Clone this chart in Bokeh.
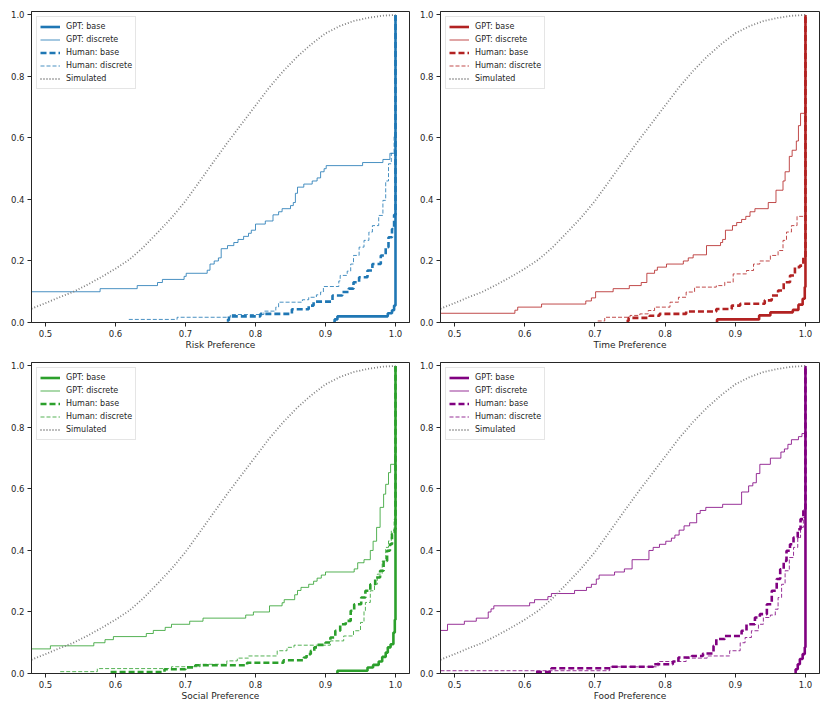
from bokeh.plotting import figure
from bokeh.layouts import column, row
from bokeh.models import Range1d, FixedTicker, PrintfTickFormatter
from bokeh.embed import file_html
from bokeh.resources import INLINE

# ---------------- data (x, y) step points ----------------
simulated = [(0.48, 0.045), (0.50, 0.063), (0.52, 0.082), (0.54, 0.100), (0.56, 0.123),
             (0.58, 0.148), (0.60, 0.175), (0.62, 0.205), (0.64, 0.245), (0.66, 0.292),
             (0.68, 0.340), (0.70, 0.395), (0.72, 0.458), (0.74, 0.522), (0.76, 0.585),
             (0.78, 0.645), (0.80, 0.705), (0.82, 0.765), (0.84, 0.818), (0.86, 0.865),
             (0.88, 0.905), (0.90, 0.940), (0.92, 0.963), (0.94, 0.980), (0.96, 0.990),
             (0.98, 0.997), (1.00, 1.000)]

risk_gpt_base = [(0.911, 0.0), (0.913, 0.01), (0.917, 0.02), (0.989, 0.03), (0.995, 0.04),
                 (0.998, 0.055), (1.0, 1.0)]
risk_gpt_discrete = [(0.48, 0.10), (0.578, 0.11), (0.631, 0.12), (0.660, 0.13), (0.667, 0.14),
                     (0.698, 0.15), (0.701, 0.16), (0.731, 0.17), (0.735, 0.19), (0.741, 0.20),
                     (0.747, 0.21), (0.751, 0.24), (0.760, 0.25), (0.769, 0.26), (0.775, 0.27),
                     (0.783, 0.28), (0.790, 0.29), (0.794, 0.30), (0.800, 0.32), (0.814, 0.33),
                     (0.825, 0.35), (0.833, 0.36), (0.838, 0.37), (0.850, 0.38), (0.854, 0.39),
                     (0.857, 0.42), (0.860, 0.44), (0.869, 0.45), (0.881, 0.46), (0.888, 0.47),
                     (0.893, 0.49), (0.898, 0.50), (0.901, 0.51), (0.953, 0.52), (0.982, 0.53),
                     (0.992, 0.55), (0.999, 0.56), (1.0, 1.0)]
risk_human_base = [(0.759, 0.007), (0.762, 0.02), (0.807, 0.028), (0.852, 0.043), (0.876, 0.055),
                   (0.883, 0.068), (0.910, 0.088), (0.924, 0.099), (0.933, 0.11), (0.940, 0.131),
                   (0.948, 0.147), (0.960, 0.169), (0.967, 0.19), (0.979, 0.218), (0.986, 0.245),
                   (0.990, 0.277), (0.995, 0.304), (0.998, 0.35), (1.0, 1.0)]
risk_human_discrete = [(0.619, 0.01), (0.688, 0.017), (0.764, 0.026), (0.812, 0.037), (0.829, 0.05),
                       (0.833, 0.066), (0.867, 0.074), (0.876, 0.082), (0.887, 0.09), (0.893, 0.099),
                       (0.897, 0.117), (0.919, 0.135), (0.921, 0.153), (0.931, 0.167), (0.936, 0.19),
                       (0.940, 0.218), (0.948, 0.245), (0.955, 0.267), (0.962, 0.294), (0.967, 0.315),
                       (0.976, 0.348), (0.982, 0.397), (0.986, 0.46), (0.990, 0.516), (0.994, 0.55),
                       (0.998, 0.61), (1.0, 1.0)]

time_gpt_base = [(0.873, 0.0), (0.874, 0.01), (0.934, 0.023), (0.950, 0.033), (0.982, 0.041),
                 (0.990, 0.058), (0.996, 0.077), (0.999, 0.115), (1.0, 1.0)]
time_gpt_discrete = [(0.48, 0.03), (0.586, 0.04), (0.590, 0.05), (0.624, 0.06), (0.687, 0.07),
                     (0.695, 0.08), (0.701, 0.10), (0.726, 0.11), (0.749, 0.12), (0.766, 0.13),
                     (0.774, 0.16), (0.785, 0.17), (0.789, 0.18), (0.802, 0.19), (0.826, 0.20),
                     (0.833, 0.21), (0.840, 0.22), (0.859, 0.25), (0.879, 0.26), (0.882, 0.27),
                     (0.886, 0.30), (0.896, 0.315), (0.902, 0.325), (0.909, 0.335), (0.915, 0.345),
                     (0.921, 0.36), (0.928, 0.37), (0.947, 0.39), (0.958, 0.43), (0.968, 0.46),
                     (0.971, 0.49), (0.977, 0.54), (0.981, 0.56), (0.987, 0.59), (0.990, 0.64),
                     (0.993, 0.68), (0.999, 0.69), (1.0, 1.0)]
time_human_base = [(0.745, 0.005), (0.748, 0.015), (0.778, 0.022), (0.792, 0.028), (0.830, 0.036),
                   (0.873, 0.044), (0.895, 0.055), (0.907, 0.061), (0.942, 0.072), (0.952, 0.088),
                   (0.961, 0.104), (0.969, 0.131), (0.978, 0.153), (0.985, 0.18), (0.992, 0.185),
                   (0.997, 0.212), (1.0, 1.0)]
time_human_discrete = [(0.704, 0.005), (0.714, 0.017), (0.750, 0.023), (0.764, 0.028), (0.776, 0.039),
                       (0.785, 0.05), (0.807, 0.066), (0.819, 0.082), (0.830, 0.099), (0.842, 0.115),
                       (0.873, 0.12), (0.885, 0.131), (0.897, 0.158), (0.916, 0.169), (0.926, 0.19),
                       (0.935, 0.20), (0.950, 0.218), (0.961, 0.234), (0.968, 0.267), (0.973, 0.294),
                       (0.980, 0.315), (0.988, 0.345), (1.0, 1.0)]

social_gpt_base = [(0.916, 0.0), (0.917, 0.009), (0.960, 0.0195), (0.968, 0.028), (0.976, 0.039),
                   (0.981, 0.054), (0.986, 0.068), (0.989, 0.085), (0.993, 0.095), (0.997, 0.133),
                   (0.999, 0.175), (1.0, 1.0)]
social_gpt_discrete = [(0.48, 0.08), (0.507, 0.09), (0.569, 0.10), (0.585, 0.11), (0.597, 0.12),
                       (0.644, 0.13), (0.654, 0.14), (0.671, 0.15), (0.680, 0.16), (0.706, 0.17),
                       (0.725, 0.18), (0.786, 0.19), (0.797, 0.20), (0.820, 0.22), (0.838, 0.23),
                       (0.841, 0.24), (0.856, 0.256), (0.860, 0.27), (0.865, 0.28), (0.876, 0.29),
                       (0.883, 0.30), (0.888, 0.31), (0.894, 0.32), (0.900, 0.33), (0.941, 0.34),
                       (0.946, 0.36), (0.955, 0.37), (0.964, 0.40), (0.968, 0.43), (0.973, 0.475),
                       (0.978, 0.54), (0.983, 0.583), (0.986, 0.615), (0.990, 0.653), (0.993, 0.68),
                       (0.999, 0.713), (1.0, 1.0)]
social_human_base = [(0.593, 0.005), (0.670, 0.014), (0.700, 0.02), (0.714, 0.027), (0.788, 0.035),
                     (0.840, 0.043), (0.869, 0.052), (0.873, 0.063), (0.879, 0.074), (0.884, 0.085),
                     (0.888, 0.093), (0.900, 0.101), (0.907, 0.117), (0.914, 0.139), (0.921, 0.16),
                     (0.929, 0.171), (0.936, 0.204), (0.941, 0.225), (0.951, 0.247), (0.957, 0.269),
                     (0.964, 0.29), (0.971, 0.312), (0.978, 0.334), (0.983, 0.366), (0.988, 0.399),
                     (0.992, 0.42), (0.995, 0.453), (0.999, 0.469), (1.0, 1.0)]
social_human_discrete = [(0.521, 0.006), (0.574, 0.016), (0.680, 0.022), (0.721, 0.03), (0.759, 0.041),
                         (0.774, 0.05), (0.790, 0.057), (0.831, 0.074), (0.845, 0.085), (0.855, 0.092),
                         (0.907, 0.106), (0.926, 0.122), (0.940, 0.139), (0.950, 0.166), (0.955, 0.204),
                         (0.957, 0.231), (0.964, 0.269), (0.970, 0.29), (0.974, 0.323), (0.981, 0.366),
                         (0.986, 0.41), (0.990, 0.431), (0.994, 0.464), (0.998, 0.502), (1.0, 1.0)]

food_gpt_base = [(0.985, 0.0), (0.986, 0.014), (0.989, 0.03), (0.992, 0.047), (0.996, 0.063),
                 (0.999, 0.085), (1.0, 1.0)]
food_gpt_discrete = [(0.48, 0.14), (0.490, 0.16), (0.514, 0.17), (0.531, 0.18), (0.548, 0.20),
                     (0.552, 0.21), (0.556, 0.22), (0.607, 0.23), (0.614, 0.24), (0.633, 0.25),
                     (0.638, 0.26), (0.671, 0.27), (0.688, 0.28), (0.695, 0.29), (0.702, 0.307),
                     (0.706, 0.32), (0.728, 0.33), (0.742, 0.34), (0.753, 0.37), (0.777, 0.40),
                     (0.783, 0.41), (0.792, 0.42), (0.801, 0.43), (0.809, 0.44), (0.814, 0.45),
                     (0.820, 0.466), (0.827, 0.48), (0.835, 0.49), (0.845, 0.52), (0.850, 0.53),
                     (0.858, 0.54), (0.882, 0.55), (0.909, 0.59), (0.919, 0.61), (0.925, 0.62),
                     (0.930, 0.65), (0.935, 0.68), (0.950, 0.70), (0.965, 0.72), (0.970, 0.73),
                     (0.975, 0.745), (0.980, 0.76), (0.990, 0.77), (0.995, 0.78), (1.0, 1.0)]
food_human_base = [(0.616, 0.005), (0.638, 0.017), (0.723, 0.022), (0.783, 0.03), (0.811, 0.039),
                   (0.819, 0.052), (0.838, 0.057), (0.854, 0.065), (0.869, 0.09), (0.873, 0.112),
                   (0.885, 0.122), (0.909, 0.139), (0.916, 0.16), (0.928, 0.182), (0.935, 0.193),
                   (0.945, 0.225), (0.952, 0.269), (0.959, 0.307), (0.964, 0.339), (0.969, 0.366),
                   (0.973, 0.399), (0.978, 0.42), (0.983, 0.442), (0.989, 0.469), (0.993, 0.502),
                   (0.997, 0.529), (1.0, 1.0)]
food_human_discrete = [(0.48, 0.009), (0.721, 0.0217), (0.790, 0.039), (0.830, 0.05), (0.860, 0.057),
                       (0.892, 0.074), (0.907, 0.10), (0.914, 0.117), (0.923, 0.139), (0.933, 0.16),
                       (0.940, 0.182), (0.950, 0.19), (0.957, 0.209), (0.961, 0.247), (0.966, 0.29),
                       (0.971, 0.334), (0.977, 0.377), (0.983, 0.41), (0.989, 0.442), (0.993, 0.475),
                       (0.997, 0.507), (1.0, 1.0)]

x_ticks = [0.5, 0.6, 0.7, 0.8, 0.9, 1.0]
y_ticks = [0.0, 0.2, 0.4, 0.6, 0.8, 1.0]

panels = [
    ("Risk Preference", "#1f77b4", risk_gpt_base, risk_gpt_discrete, risk_human_base, risk_human_discrete),
    ("Time Preference", "#b22222", time_gpt_base, time_gpt_discrete, time_human_base, time_human_discrete),
    ("Social Preference", "#2ca02c", social_gpt_base, social_gpt_discrete, social_human_base, social_human_discrete),
    ("Food Preference", "#800080", food_gpt_base, food_gpt_discrete, food_human_base, food_human_discrete),
]

FONT = "DejaVu Sans"
DARK = "#262626"


def xs(pts):
    return [p[0] for p in pts]


def ys(pts):
    return [p[1] for p in pts]


def make_panel(i, label, color, gb, gd, hb, hd):
    left_col = (i % 2 == 0)
    top_row = (i < 2)
    p = figure(
        frame_width=378 if left_col else 379,
        frame_height=311,
        x_range=Range1d(0.48, 1.02),
        y_range=Range1d(0.0, 1.011),
        output_backend="svg",
        toolbar_location=None,
        min_border_left=31 if left_col else 25,
        min_border_right=6 if left_col else 3,
        min_border_top=11 if top_row else 7,
        min_border_bottom=33 if top_row else 31,
    )
    p.background_fill_color = "white"
    p.border_fill_color = "white"
    p.outline_line_color = DARK
    p.outline_line_width = 1
    p.xgrid.visible = False
    p.ygrid.visible = False

    p.step(xs(gb), ys(gb), mode="after", line_color=color, line_width=2.6,
           legend_label="GPT: base")
    p.step(xs(gd), ys(gd), mode="after", line_color=color, line_width=0.9, line_alpha=0.9,
           legend_label="GPT: discrete")
    p.step(xs(hb), ys(hb), mode="after", line_color=color, line_width=2.6, line_dash="6 3",
           legend_label="Human: base")
    p.step(xs(hd), ys(hd), mode="after", line_color=color, line_width=0.9, line_alpha=0.9,
           line_dash="4 2", legend_label="Human: discrete")
    p.line(xs(simulated), ys(simulated), line_color="#808080", line_width=1.8,
           line_dash="1 2", legend_label="Simulated")

    for ax in (p.xaxis[0], p.yaxis[0]):
        ax.minor_tick_line_color = None
        ax.major_tick_in = 0
        ax.major_tick_out = 4
        ax.major_tick_line_color = DARK
        ax.axis_line_color = DARK
        ax.major_label_text_font = FONT
        ax.major_label_text_font_size = "8.5px"
        ax.major_label_text_color = DARK
        ax.major_label_standoff = 3
        ax.formatter = PrintfTickFormatter(format="%.1f")
    p.xaxis[0].ticker = FixedTicker(ticks=x_ticks)
    p.yaxis[0].ticker = FixedTicker(ticks=y_ticks)
    p.xaxis[0].axis_label = label
    p.xaxis[0].axis_label_text_font = FONT
    p.xaxis[0].axis_label_text_font_size = "9px"
    p.xaxis[0].axis_label_text_font_style = "normal"
    p.xaxis[0].axis_label_text_color = DARK
    p.xaxis[0].axis_label_standoff = 0

    lg = p.legend[0]
    lg.location = "top_left"
    lg.margin = 5
    lg.padding = 3
    lg.spacing = 0
    lg.glyph_width = 20
    lg.glyph_height = 13
    lg.label_height = 13
    lg.label_standoff = 6
    lg.label_text_font = FONT
    lg.label_text_font_size = "8px"
    lg.label_text_color = DARK
    lg.border_line_color = "#cccccc"
    lg.border_line_width = 1
    lg.background_fill_color = "white"
    lg.background_fill_alpha = 0.8
    return p


figs = [make_panel(i, *panels[i]) for i in range(4)]
layout = column(row(figs[0], figs[1]), row(figs[2], figs[3]))

open("out.html", "w").write(file_html(layout, INLINE))
